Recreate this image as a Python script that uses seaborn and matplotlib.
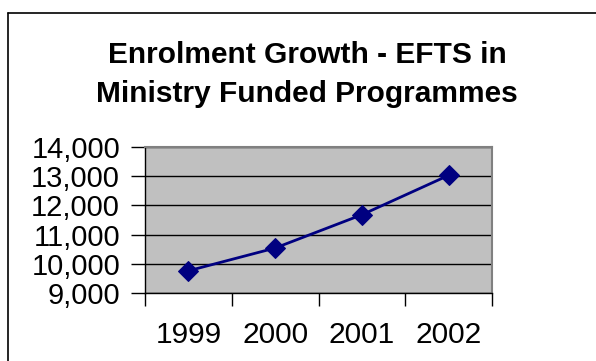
import matplotlib
matplotlib.use("Agg")
import matplotlib.pyplot as plt
import seaborn as sns
import pandas as pd
from matplotlib.lines import Line2D
from matplotlib.ticker import FuncFormatter

years = ["1999", "2000", "2001", "2002"]
efts = [9760, 10540, 11680, 13030]
y_ticks = [9000, 10000, 11000, 12000, 13000, 14000]
title = "Enrolment Growth - EFTS in\nMinistry Funded Programmes"

sns.set_style("white")
plt.rcParams['font.family'] = ['Liberation Sans', 'DejaVu Sans']
plt.rcParams['text.color'] = 'black'
plt.rcParams['xtick.color'] = 'black'
plt.rcParams['ytick.color'] = 'black'

W, H = 596, 361
fig = plt.figure(figsize=(W / 100, H / 100), dpi=100)
ax = fig.add_axes([145 / W, 1 - 293 / H, (492 - 145) / W, (293 - 147) / H])

df = pd.DataFrame({"pos": range(len(years)), "efts": efts})
sns.lineplot(data=df, x="pos", y="efts", ax=ax, color="#000080", linewidth=2,
             marker="D", markersize=10, markeredgecolor="#000080", zorder=5)

ax.set_facecolor("#C0C0C0")
ax.set_xlim(-0.5, len(years) - 0.5)
ax.set_ylim(y_ticks[0], y_ticks[-1])
ax.set_yticks(y_ticks)
ax.yaxis.set_major_formatter(FuncFormatter(lambda v, p: f"{int(v):,}"))
ax.grid(axis="y", color="black", linewidth=1)
ax.set_axisbelow(True)

ax.set_xticks([i - 0.5 for i in range(len(years) + 1)])
ax.set_xticklabels([])
ax.set_xticks(range(len(years)), minor=True)
ax.set_xticklabels(years, minor=True)
ax.tick_params(axis="x", which="major", direction="out", length=9, width=1, color="black", bottom=True)
ax.tick_params(axis="x", which="minor", length=0, labelsize=21.5, pad=20, bottom=True, labelcolor="black")
ax.tick_params(axis="y", direction="out", length=10, width=1, color="black", labelsize=21, pad=8,
               left=True, labelcolor="black")
ax.set_xlabel("")
ax.set_ylabel("")

for s in ["top", "right"]:
    ax.spines[s].set_color("#808080")
    ax.spines[s].set_linewidth(1.5)
for s in ["left", "bottom"]:
    ax.spines[s].set_color("black")
    ax.spines[s].set_linewidth(1)

fig.text(307 / W, 1 - 41 / H, title, ha="center", va="top", fontsize=21.5,
         fontweight="bold", linespacing=1.52, color="black")

fig.add_artist(Line2D([8 / W, 8 / W], [0, 1 - 13 / H], color="black", linewidth=1.2, transform=fig.transFigure))
fig.add_artist(Line2D([8 / W, 1], [1 - 13 / H, 1 - 13 / H], color="black", linewidth=1.2, transform=fig.transFigure))

fig.savefig("out.png", dpi=100, facecolor="white")
